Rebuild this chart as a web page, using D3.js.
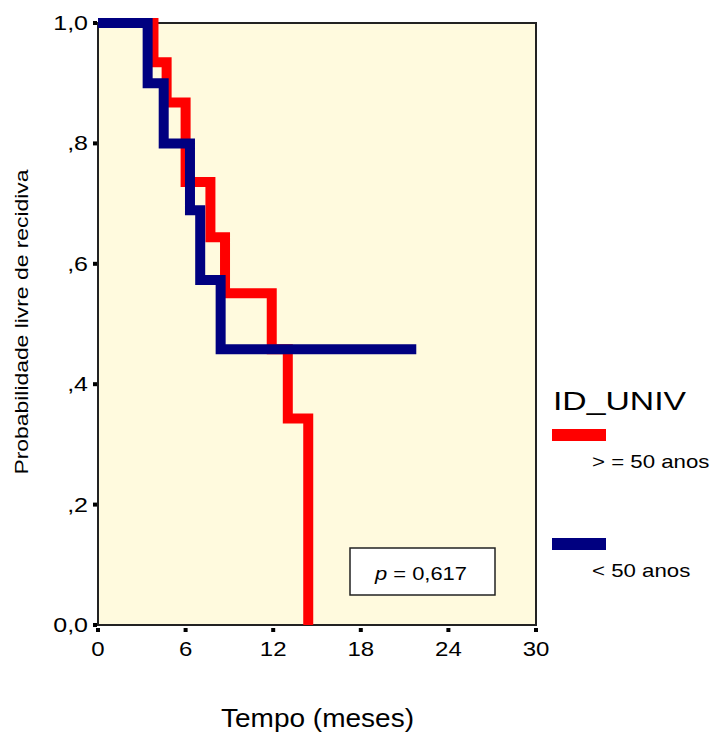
<!DOCTYPE html>
<html>
<head>
<meta charset="utf-8">
<script src="https://cdn.jsdelivr.net/npm/d3@7"></script>
<style>
  body { margin: 0; background: #fff; }
  text { font-family: "Liberation Sans", Arial, sans-serif; fill: #000; }
</style>
</head>
<body>
<div id="chart"></div>
<script>
// Kaplan-Meier steps
var redTimes = [0, 3.8, 4.7, 6.0, 7.7, 8.7, 11.9, 13.0, 14.4];
var redSurv  = [1, 0.935, 0.868, 0.736, 0.644, 0.551, 0.458, 0.343, 0];
var blueTimes = [0, 3.4, 4.5, 6.3, 7.0, 8.4, 21.8];
var blueSurv  = [1, 0.9, 0.8, 0.689, 0.573, 0.458, 0.458];

var xTicks = [0, 6, 12, 18, 24, 30];
var yTicks = [0, 0.2, 0.4, 0.6, 0.8, 1.0];
var yTickLabels = ["0,0", ",2", ",4", ",6", ",8", "1,0"];
var legendLabels = ["> = 50 anos", "< 50 anos"];
var legendColors = ["#ff0000", "#000080"];

var w = 713, h = 735;
var pLeft = 98, pRight = 536, pTop = 23, pBottom = 625;

// the original picture is a bit wider than tall, so text gets stretched sideways
function stretch(sel, k) {
  sel.each(function() {
    var len = this.getComputedTextLength();
    d3.select(this).attr("textLength", len * k).attr("lengthAdjust", "spacingAndGlyphs");
  });
}

var svg = d3.select("body div#chart").append("svg")
    .attr("width", w)
    .attr("height", h);

var x = d3.scaleLinear().domain([0, 30]).range([pLeft, pRight]);
var y = d3.scaleLinear().domain([0, 1]).range([pBottom, pTop]);

// plot area
svg.append("rect")
  .attr("x", pLeft).attr("y", pTop)
  .attr("width", pRight - pLeft).attr("height", pBottom - pTop)
  .attr("fill", "#fffade")
  .attr("stroke", "#222")
  .attr("stroke-width", 2);

// ticks as little squares, like the original
svg.selectAll("rect.xt").data(xTicks).enter().append("rect")
  .attr("class", "xt")
  .attr("x", function(d) { return x(d) - 2; })
  .attr("y", pBottom + 3)
  .attr("width", 4).attr("height", 4)
  .attr("fill", "#000");

svg.selectAll("rect.yt").data(yTicks).enter().append("rect")
  .attr("class", "yt")
  .attr("x", pLeft - 5)
  .attr("y", function(d) { return y(d) - 2; })
  .attr("width", 4).attr("height", 4)
  .attr("fill", "#000");

var xl = svg.selectAll("text.xl").data(xTicks).enter().append("text")
  .attr("class", "xl")
  .attr("x", function(d) { return x(d); })
  .attr("y", 656)
  .attr("text-anchor", "middle")
  .attr("font-size", 20)
  .text(function(d) { return d; });
stretch(xl, 1.2);

var yl = svg.selectAll("text.yl").data(yTicks).enter().append("text")
  .attr("class", "yl")
  .attr("x", 88)
  .attr("y", function(d) { return y(d) + 7; })
  .attr("text-anchor", "end")
  .attr("font-size", 20)
  .text(function(d, i) { return yTickLabels[i]; });
stretch(yl, 1.25);

// survival curves
var line = d3.line()
  .x(function(d) { return x(d[0]); })
  .y(function(d) { return y(d[1]); })
  .curve(d3.curveStepAfter);

var redPts = d3.zip(redTimes, redSurv);
var bluePts = d3.zip(blueTimes, blueSurv);

svg.append("path")
  .attr("d", line(redPts))
  .attr("fill", "none")
  .attr("stroke", legendColors[0])
  .attr("stroke-width", 10)
  .attr("stroke-linejoin", "miter");

svg.append("path")
  .attr("d", line(bluePts))
  .attr("fill", "none")
  .attr("stroke", legendColors[1])
  .attr("stroke-width", 10)
  .attr("stroke-linejoin", "miter");

// p value box
svg.append("rect")
  .attr("x", 350).attr("y", 548)
  .attr("width", 145).attr("height", 47)
  .attr("fill", "#fff")
  .attr("stroke", "#222")
  .attr("stroke-width", 1.5);

var pt = svg.append("text")
  .attr("x", 375).attr("y", 580)
  .attr("font-size", 19)
  .attr("textLength", 92)
  .attr("lengthAdjust", "spacingAndGlyphs");
pt.append("tspan").attr("font-style", "italic").text("p");
pt.append("tspan").text(" = 0,617");

// axis titles
svg.append("text")
  .attr("transform", "translate(28,322) rotate(-90)")
  .attr("text-anchor", "middle")
  .attr("font-size", 18)
  .attr("textLength", 305)
  .attr("lengthAdjust", "spacingAndGlyphs")
  .text("Probabilidade livre de recidiva");

svg.append("text")
  .attr("x", 221).attr("y", 727)
  .attr("font-size", 25)
  .attr("textLength", 193)
  .attr("lengthAdjust", "spacingAndGlyphs")
  .text("Tempo (meses)");

// legend
svg.append("text")
  .attr("x", 553).attr("y", 410)
  .attr("font-size", 25)
  .attr("textLength", 133)
  .attr("lengthAdjust", "spacingAndGlyphs")
  .text("ID_UNIV");

var leg = svg.selectAll("g.leg").data(legendLabels).enter().append("g")
  .attr("class", "leg")
  .attr("transform", function(d, i) { return "translate(552," + (429 + i * 109) + ")"; });

leg.append("rect")
  .attr("width", 54).attr("height", 12)
  .attr("fill", function(d, i) { return legendColors[i]; });

var lt = leg.append("text")
  .attr("x", 40).attr("y", 39)
  .attr("font-size", 19)
  .text(function(d) { return d; });
stretch(lt, 1.17);
</script>
</body>
</html>
